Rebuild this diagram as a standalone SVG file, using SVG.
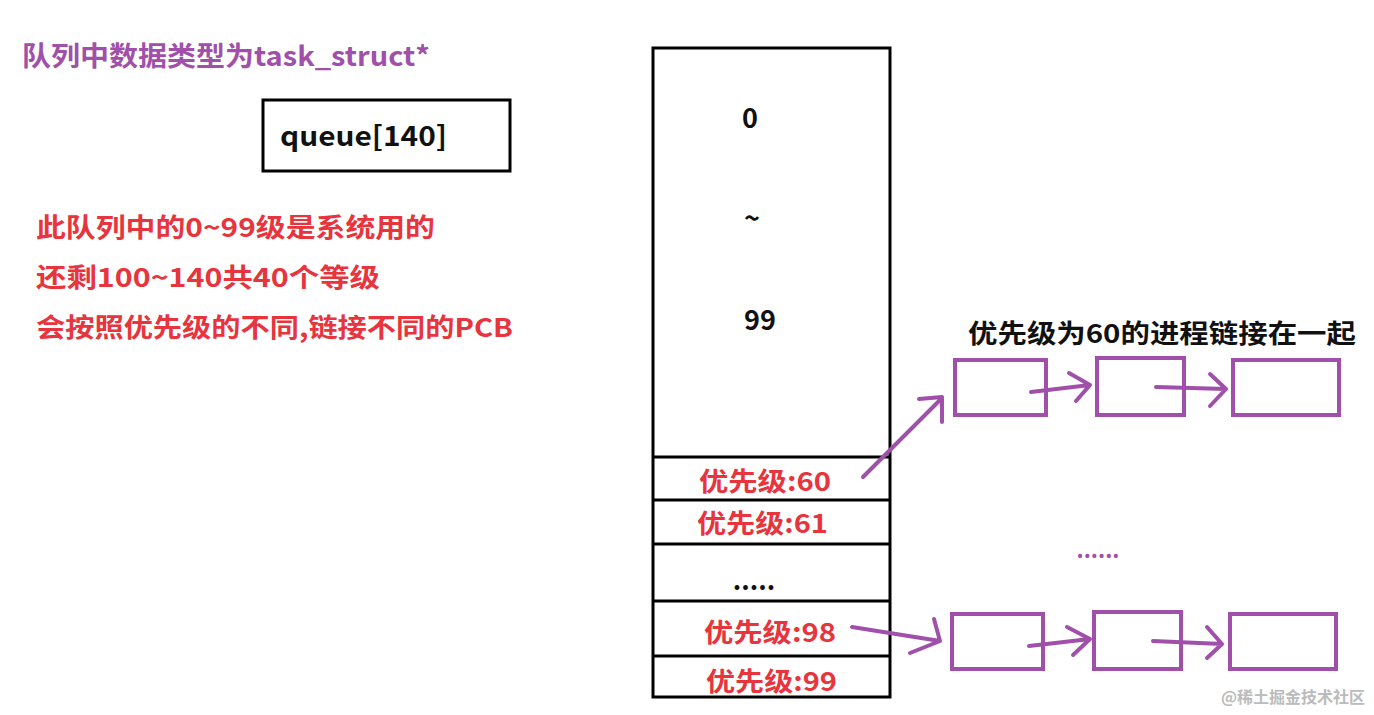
<svg xmlns="http://www.w3.org/2000/svg" width="1374" height="715" viewBox="0 0 1374 715">
<style>
text{font-family:"Noto Sans CJK SC","Liberation Sans",sans-serif;font-weight:bold}
.p{fill:#a050aa}.r{fill:#e8343c}.k{fill:#111}
.box{fill:none;stroke:#000;stroke-width:3}
.pb{fill:none;stroke:#a050aa;stroke-width:4}
.pl{fill:none;stroke:#a050aa;stroke-width:4;stroke-linecap:round;stroke-linejoin:round}
</style>
<rect width="1374" height="715" fill="#fff"/>
<g id="title"><text x="22" y="66" font-size="27" class="p" textLength="408" lengthAdjust="spacingAndGlyphs">队列中数据类型为task_struct*</text></g>
<g id="queue"><rect class="box" x="263" y="100" width="247" height="71"/><text x="280" y="146" font-size="27" class="k" textLength="167" lengthAdjust="spacingAndGlyphs">queue[140]</text></g>
<g id="notes" font-size="26">
<text x="36" y="237" class="r" textLength="399" lengthAdjust="spacingAndGlyphs">此队列中的0~99级是系统用的</text>
<text x="36" y="287" class="r" textLength="344" lengthAdjust="spacingAndGlyphs">还剩100~140共40个等级</text>
<text x="36" y="337" class="r" textLength="477" lengthAdjust="spacingAndGlyphs">会按照优先级的不同,链接不同的PCB</text>
</g>
<g id="table">
<rect class="box" x="653" y="48" width="237" height="649"/>
<path class="box" d="M653 457H890M653 500H890M653 544H890M653 601H890M653 656H890"/>
<text x="750" y="128" font-size="27" class="k" text-anchor="middle">0</text>
<text x="752" y="228" font-size="27" class="k" text-anchor="middle">~</text>
<text x="760" y="330" font-size="27" class="k" text-anchor="middle">99</text>
<text x="699" y="491" font-size="26" class="r" textLength="132" lengthAdjust="spacingAndGlyphs">优先级:60</text>
<text x="697" y="533" font-size="26" class="r" textLength="131" lengthAdjust="spacingAndGlyphs">优先级:61</text>
<text x="754" y="590" font-size="26" class="k" text-anchor="middle">.....</text>
<text x="704" y="642" font-size="26" class="r" textLength="132" lengthAdjust="spacingAndGlyphs">优先级:98</text>
<text x="706" y="691" font-size="26" class="r" textLength="131" lengthAdjust="spacingAndGlyphs">优先级:99</text>
</g>
<g id="label60"><text x="968" y="343" font-size="26" class="k" textLength="388" lengthAdjust="spacingAndGlyphs">优先级为60的进程链接在一起</text></g>
<g id="dots"><text x="1098" y="558" font-size="22" class="p" text-anchor="middle">......</text></g>
<g id="nodes">
<rect class="pb" x="955" y="360" width="91" height="55"/>
<rect class="pb" x="1097" y="358" width="87" height="57"/>
<rect class="pb" x="1233" y="360" width="106" height="55"/>
<rect class="pb" x="952" y="614" width="91" height="55"/>
<rect class="pb" x="1094" y="612" width="87" height="57"/>
<rect class="pb" x="1230" y="614" width="106" height="55"/>
</g>
<g id="connectors" class="pl">
<path d="M863 477L942 398M919 399L942 397L942 422"/>
<path d="M1031 392L1090 385M1069 373L1090 385L1076 401"/>
<path d="M1156 387L1226 389M1210 374L1226 389L1210 406"/>
<path d="M852 627L940 641M934 619L940 641L910 653"/>
<path d="M1029 646L1090 639M1067 627L1090 639L1073 655"/>
<path d="M1153 641L1222 644M1207 627L1222 644L1207 658"/>
</g>
<g id="watermark"><text x="1365" y="703" font-size="16" fill="#bbb" font-weight="normal" text-anchor="end">@稀土掘金技术社区</text></g>
</svg>
